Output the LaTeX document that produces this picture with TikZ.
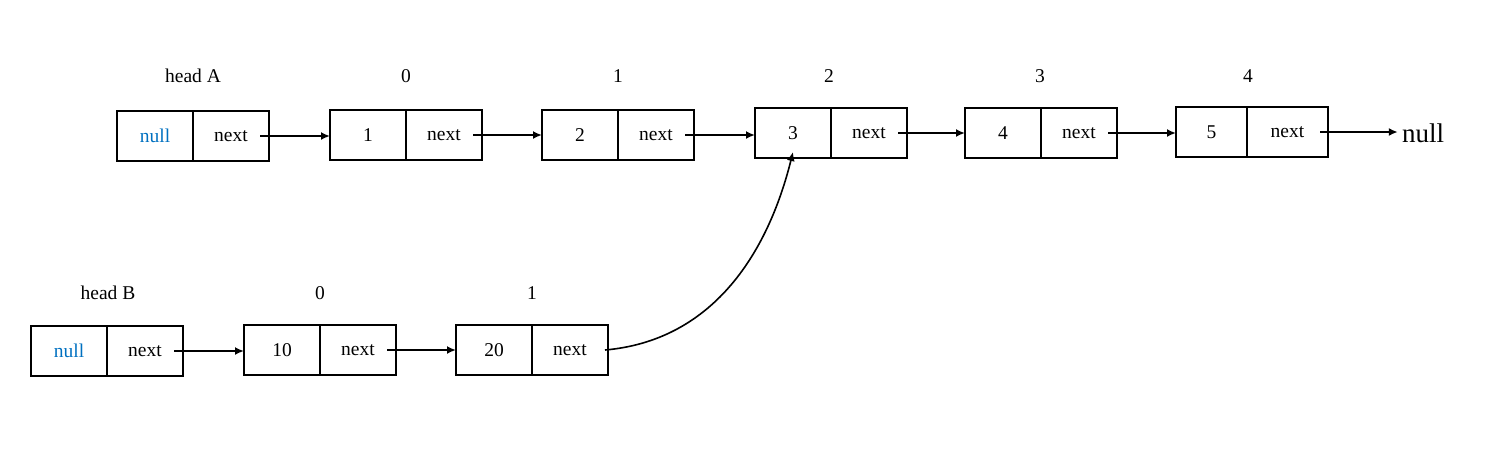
\documentclass[tikz,border=0pt]{standalone}
\usepackage{fontspec}
\setmainfont{Liberation Serif}
\usetikzlibrary{positioning,arrows.meta}
\definecolor{nullblue}{RGB}{0,112,192}

\tikzset{
  cell/.style={draw, line width=2.2pt, minimum width=76pt, minimum height=50pt,
    inner sep=0pt, outer sep=0pt, font=\fontsize{19.5}{23}\selectfont},
  ptr/.style={line width=2pt, -{Latex[length=9pt,width=8pt]}},
  idx/.style={font=\fontsize{19.5}{23}\selectfont}
}

\begin{document}
\begin{tikzpicture}[x=1pt,y=-1pt]
    \useasboundingbox (0,0) rectangle (1487,458);

    % list A
    \node[cell, text=nullblue] (a0) at (155,136) {null};
    \node[cell, right=0pt of a0] (a0n) {next};
    \node[cell] (a1) at (368,135) {1};
    \node[cell, right=0pt of a1] (a1n) {next};
    \node[cell] (a2) at (580,135) {2};
    \node[cell, right=0pt of a2] (a2n) {next};
    \node[cell] (a3) at (793,133) {3};
    \node[cell, right=0pt of a3] (a3n) {next};
    \node[cell] (a4) at (1003,133) {4};
    \node[cell, right=0pt of a4] (a4n) {next};
    \node[cell, minimum width=71pt] (a5) at (1211.5,132) {5};
    \node[cell, minimum width=81pt, right=0pt of a5] (a5n) {next};
    \node[font=\fontsize{27}{32}\selectfont, inner sep=0pt] (endnull) at (1423,133) {null};

    \node[idx] at (193,76) {head A};
    \node[idx] at (406,76) {0};
    \node[idx] at (618,76) {1};
    \node[idx] at (829,76) {2};
    \node[idx] at (1040,76) {3};
    \node[idx] at (1248,76) {4};

    \draw[ptr] ([xshift=-9pt]a0n.east) -- (a0n.east -| a1.west);
    \draw[ptr] ([xshift=-9pt]a1n.east) -- (a1n.east -| a2.west);
    \draw[ptr] ([xshift=-9pt]a2n.east) -- (a2n.east -| a3.west);
    \draw[ptr] ([xshift=-9pt]a3n.east) -- (a3n.east -| a4.west);
    \draw[ptr] ([xshift=-9pt]a4n.east) -- (a4n.east -| a5.west);
    \draw[ptr, shorten >=4pt] ([xshift=-8pt]a5n.east) -- (a5n.east -| endnull.west);

    % list B
    \node[cell, text=nullblue] (b0) at (69,351) {null};
    \node[cell, right=0pt of b0] (b0n) {next};
    \node[cell] (b1) at (282,350) {10};
    \node[cell, right=0pt of b1] (b1n) {next};
    \node[cell] (b2) at (494,350) {20};
    \node[cell, right=0pt of b2] (b2n) {next};

    \node[idx] at (108,293) {head B};
    \node[idx] at (320,293) {0};
    \node[idx] at (532,293) {1};

    \draw[ptr] ([xshift=-9pt]b0n.east) -- (b0n.east -| b1.west);
    \draw[ptr] ([xshift=-9pt]b1n.east) -- (b1n.east -| b2.west);
    \draw[ptr, line width=1.6pt] ([xshift=-3pt]b2n.east) to[out=5, in=-104] ([yshift=6pt]a3.south);
\end{tikzpicture}
\end{document}
